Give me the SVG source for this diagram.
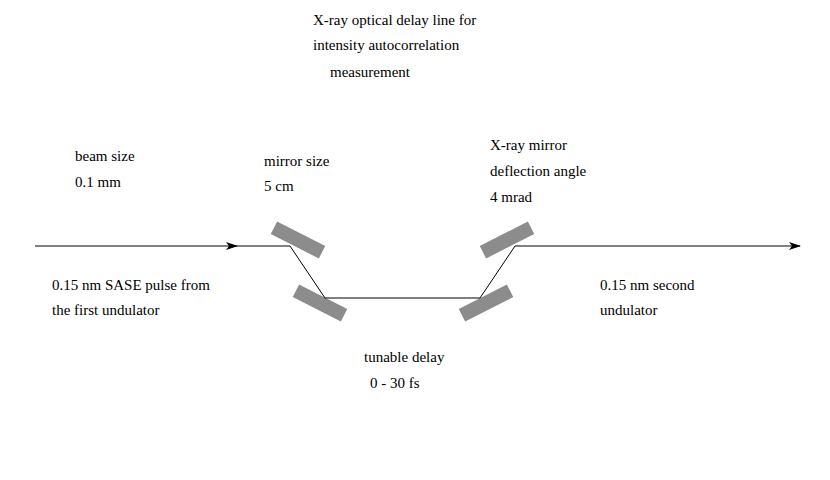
<svg xmlns="http://www.w3.org/2000/svg" width="830" height="480" viewBox="0 0 830 480">
<style>
.t{font-family:'Liberation Serif','Times New Roman','DejaVu Serif',serif;font-size:15px;fill:#000}
.m{fill:#8c8c8c}
.b{stroke:#000;stroke-width:1;fill:none}
</style>
<defs><marker id="a" markerWidth="12" markerHeight="8" refX="11" refY="4" orient="auto" markerUnits="userSpaceOnUse"><path d="M0,0 L12,4 L0,8 L3,4 Z" fill="#000"/></marker></defs>
<rect width="830" height="480" fill="#fff"/>
<g id="labels" class="t" font-family="Liberation Serif, serif">
<text x="313" y="25">X-ray optical delay line for</text>
<text x="313" y="50">intensity autocorrelation</text>
<text x="330" y="77">measurement</text>
<text x="75" y="161">beam size</text>
<text x="75" y="187">0.1 mm</text>
<text x="264" y="166">mirror size</text>
<text x="264" y="191">5 cm</text>
<text x="490" y="150">X-ray mirror</text>
<text x="490" y="176">deflection angle</text>
<text x="490" y="202">4 mrad</text>
<text x="52" y="290">0.15 nm SASE pulse from</text>
<text x="52" y="315">the first undulator</text>
<text x="600" y="290">0.15 nm second</text>
<text x="600" y="315">undulator</text>
<text x="364" y="362">tunable delay</text>
<text x="370" y="388">0 - 30 fs</text>
</g>
<g id="mirrors">
<rect id="m1" class="m" x="-27" y="-7" width="54" height="14" transform="translate(298,240) rotate(27)"/>
<rect id="m2" class="m" x="-27" y="-7" width="54" height="14" transform="translate(320,303) rotate(27)"/>
<rect id="m3" class="m" x="-27" y="-7" width="54" height="14" transform="translate(486,303) rotate(-27)"/>
<rect id="m4" class="m" x="-27" y="-7" width="54" height="14" transform="translate(507,240) rotate(-27)"/>
</g>
<g id="connectors">
<line class="b" x1="35" y1="246" x2="237" y2="246" marker-end="url(#a)"/>
<line class="b" x1="237" y1="246" x2="290" y2="246"/>
<polyline class="b" points="290,246 325,298 480,298 515,246"/>
<line class="b" x1="515" y1="246" x2="800" y2="246" marker-end="url(#a)"/>
</g>
</svg>
